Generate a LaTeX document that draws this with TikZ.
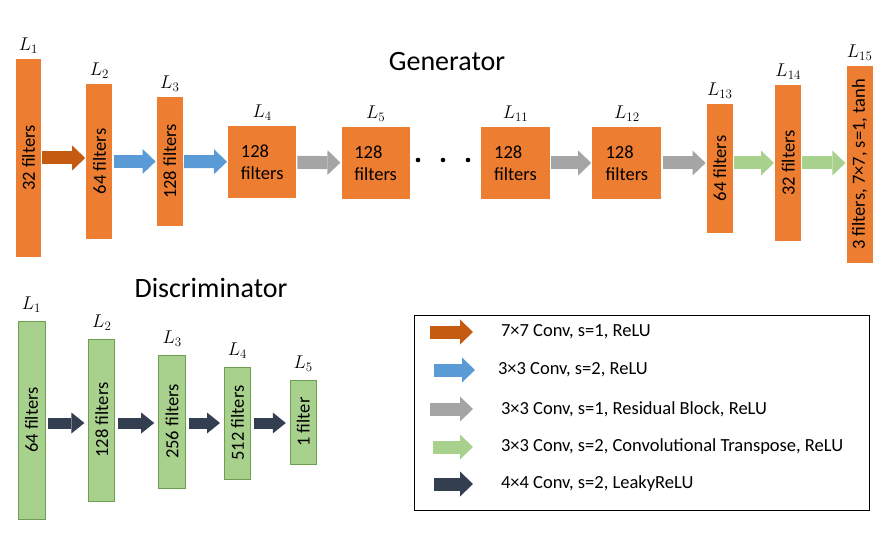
\documentclass[tikz,border=0pt]{standalone}
\usepackage{fix-cm}
\usepackage{fontspec}
\setmainfont{Carlito}
\usepackage{graphicx}
\usetikzlibrary{positioning,arrows.meta}

\definecolor{genorange}{HTML}{ED7D31}
\definecolor{convorange}{HTML}{C55A11}
\definecolor{convblue}{HTML}{5B9BD5}
\definecolor{resgray}{HTML}{A5A5A5}
\definecolor{transgreen}{HTML}{A9D18E}
\definecolor{discgreen}{HTML}{A9D18E}
\definecolor{discline}{HTML}{6E9F4E}
\definecolor{leakynavy}{HTML}{333F50}

\tikzset{
  gen/.style={rectangle, fill=genorange, inner sep=0pt},
  disc/.style={rectangle, fill=discgreen, draw=discline, line width=0.8pt, inner sep=0pt},
  fat/.style={line width=13pt, shorten <=1pt, shorten >=1pt, -{Triangle[length=13pt, width=25pt, line width=0pt]}},
  slim/.style={line width=11pt, shorten <=3pt, shorten >=4pt, -{Triangle[length=13pt, width=21pt, line width=0pt]}},
  headline/.style={font=\fontsize{28}{34}\selectfont}
}

\begin{document}
\begin{tikzpicture}[x=1pt, y=-1pt, font=\fontsize{18.5}{22}\selectfont]
    \useasboundingbox (0,0) rectangle (888,534);

    %% Generator
    \node[headline] (gtitle) at (447,62) {Generator};
    \node[gen, minimum width=25pt, minimum height=198pt] (g1) at (28.5,158) {\rotatebox{90}{32 filters}};
    \node[gen, minimum width=26pt, minimum height=155pt, right=45pt of g1, yshift=-3.5pt] (g2) {\rotatebox{90}{64 filters}};
    \node[gen, minimum width=26pt, minimum height=129pt, right=44pt of g2] (g3) {\rotatebox{90}{128 filters}};
    \node[gen, minimum width=68pt, minimum height=72pt, right=45pt of g3, yshift=-0.5pt, align=left] (g4) {128\\filters};
    \node[gen, minimum width=68pt, minimum height=72pt, right=45pt of g4, yshift=-1pt, align=left] (g5) {128\\filters};
    \node[gen, minimum width=69pt, minimum height=72pt, right=71pt of g5, align=left] (g11) {128\\filters};
    \node[gen, minimum width=69pt, minimum height=72pt, right=42pt of g11, align=left] (g12) {128\\filters};
    \node[gen, minimum width=26pt, minimum height=129pt, right=45pt of g12, yshift=-5.5pt] (g13) {\rotatebox{90}{64 filters}};
    \node[gen, minimum width=26pt, minimum height=156pt, right=42pt of g13, yshift=5.5pt] (g14) {\rotatebox{90}{32 filters}};
    \node[gen, minimum width=26pt, minimum height=197pt, right=45pt of g14, yshift=-1.5pt] (g15) {\rotatebox{90}{3 filters, 7×7, s=1, tanh}};

    \foreach \i in {1,2,3,4,5,11,12,13,14,15}
        \node[above=2pt of g\i] (gl\i) {$L_{\i}$};

    \foreach \x in {418,443,468}
        \fill (\x,160) circle (2.3pt);

    \draw[fat, convorange] (g1.east) -- (g1.east -| g2.west);
    \draw[fat, convblue] (g2) -- (g3);
    \draw[fat, convblue] (g3) -- (g4);
    \draw[fat, resgray] (g4) -- (g5);
    \draw[fat, resgray] (g11) -- (g12);
    \draw[fat, resgray] (g12.east) -- (g12.east -| g13.west);
    \draw[fat, transgreen] (g13.east |- g14) -- (g14.west);
    \draw[fat, transgreen] (g14.east) -- (g14.east -| g15.west);

    %% Discriminator
    \node[headline] (dtitle) at (211,288) {Discriminator};
    \node[disc, minimum width=27pt, minimum height=198pt] (d1) at (31.5,420) {\rotatebox{90}{64 filters}};
    \node[disc, minimum width=26pt, minimum height=162pt, right=43pt of d1] (d2) {\rotatebox{90}{128 filters}};
    \node[disc, minimum width=27pt, minimum height=133pt, right=43pt of d2, yshift=-1.5pt] (d3) {\rotatebox{90}{256 filters}};
    \node[disc, minimum width=26pt, minimum height=112pt, right=38pt of d3, yshift=-1.5pt] (d4) {\rotatebox{90}{512 filters}};
    \node[disc, minimum width=26pt, minimum height=84pt, right=39pt of d4, yshift=1pt] (d5) {\rotatebox{90}{1 filter}};

    \foreach \i in {1,...,5}
        \node[above=5pt of d\i] (dl\i) {$L_{\i}$};

    \draw[slim, leakynavy] (d1.east |- d4) -- (d2.west |- d4);
    \draw[slim, leakynavy] (d2.east |- d4) -- (d3.west |- d4);
    \draw[slim, leakynavy] (d3.east |- d4) -- (d4.west);
    \draw[slim, leakynavy] (d4.east) -- (d4.east -| d5.west);

    %% Legend
    \node[draw, line width=0.8pt, minimum width=455pt, minimum height=195pt, anchor=north west, inner sep=0pt] (key) at (414,315) {};

    \coordinate (k1a) at (429,332); \coordinate (k1b) at (474,332);
    \draw[fat, convorange] (k1a) -- (k1b);
    \node[anchor=west] (k1t) at (497.5,332) {7×7 Conv, s=1, ReLU};

    \coordinate (k2a) at (433,370); \coordinate (k2b) at (476,370);
    \draw[fat, convblue] (k2a) -- (k2b);
    \node[anchor=west] (k2t) at (494.5,370) {3×3 Conv, s=2, ReLU};

    \coordinate (k3a) at (429,409); \coordinate (k3b) at (474,409);
    \draw[fat, resgray] (k3a) -- (k3b);
    \node[anchor=west] (k3t) at (497.5,409) {3×3 Conv, s=1, Residual Block, ReLU};

    \coordinate (k4a) at (432,447); \coordinate (k4b) at (474,447);
    \draw[fat, transgreen] (k4a) -- (k4b);
    \node[anchor=west] (k4t) at (497.5,447) {3×3 Conv, s=2, Convolutional Transpose, ReLU};

    \coordinate (k5a) at (433,484); \coordinate (k5b) at (474,484);
    \draw[fat, leakynavy] (k5a) -- (k5b);
    \node[anchor=west] (k5t) at (497.5,484) {4×4 Conv, s=2, LeakyReLU};
\end{tikzpicture}
\end{document}
